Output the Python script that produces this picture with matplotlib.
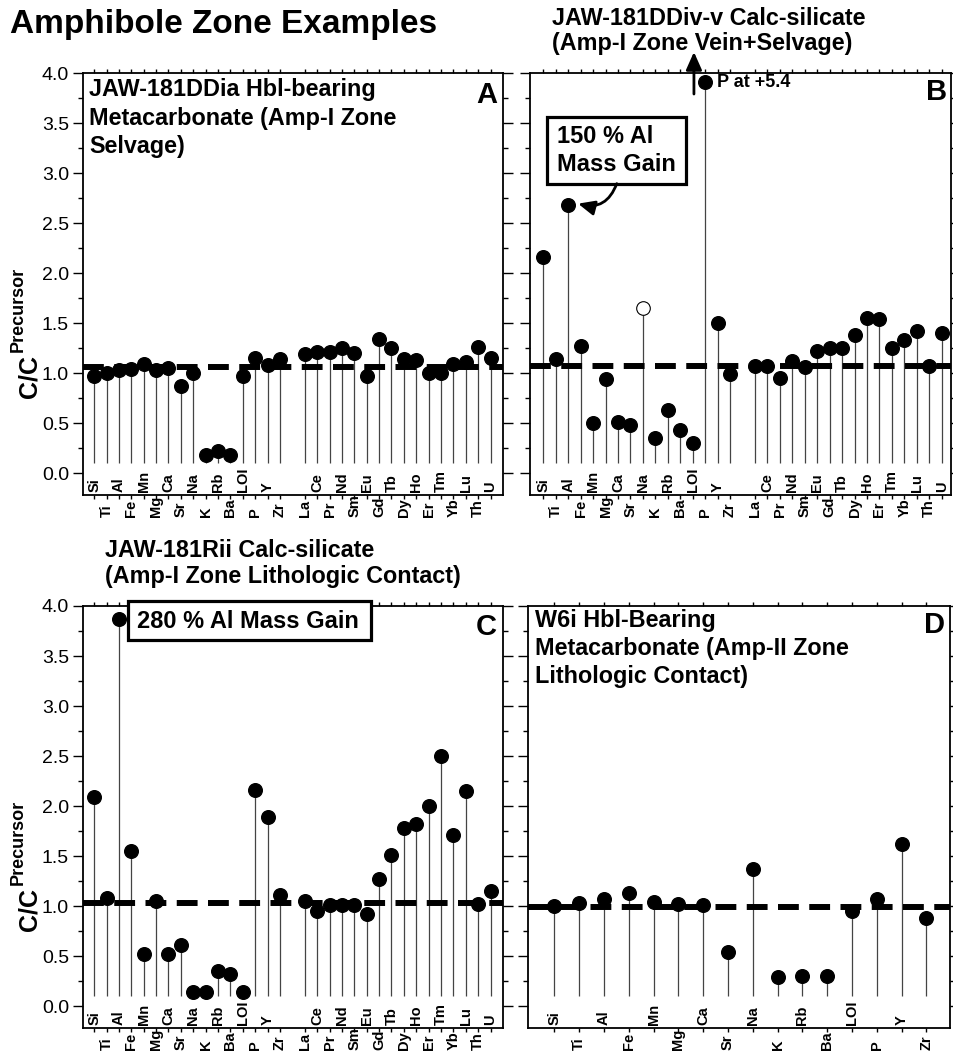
import numpy as np
import matplotlib
matplotlib.use("Agg")
import matplotlib.pyplot as plt
from matplotlib.patches import Rectangle

plt.rcParams['font.family'] = ['Liberation Sans', 'DejaVu Sans']
plt.rcParams['lines.scale_dashes'] = False

# ---------------- data ----------------
elements_full = ['Si', 'Ti', 'Al', 'Fe', 'Mn', 'Mg', 'Ca', 'Sr', 'Na', 'K', 'Rb', 'Ba',
                 'LOI', 'P', 'Y', 'Zr',
                 'La', 'Ce', 'Pr', 'Nd', 'Sm', 'Eu', 'Gd', 'Tb', 'Dy', 'Ho', 'Er', 'Tm',
                 'Yb', 'Lu', 'Th', 'U']
elements_d = ['Si', 'Ti', 'Al', 'Fe', 'Mn', 'Mg', 'Ca', 'Sr', 'Na', 'K', 'Rb', 'Ba',
              'LOI', 'P', 'Y', 'Zr']

values_a = [0.97, 1.00, 1.03, 1.04, 1.09, 1.03, 1.05, 0.87, 1.00, 0.18, 0.22, 0.18,
            0.97, 1.15, 1.08, 1.14,
            1.19, 1.21, 1.21, 1.25, 1.20, 0.97, 1.34, 1.25, 1.14, 1.13, 1.00, 1.00,
            1.09, 1.11, 1.26, 1.15]
values_b = [2.16, 1.14, 2.68, 1.27, 0.50, 0.94, 0.51, 0.48, 1.65, 0.35, 0.63, 0.43,
            0.30, 3.91, 1.50, 0.99,
            1.07, 1.07, 0.95, 1.12, 1.06, 1.22, 1.25, 1.25, 1.385, 1.55, 1.54, 1.25,
            1.33, 1.42, 1.07, 1.40]
open_b = ['Na']
values_c = [2.09, 1.08, 3.87, 1.55, 0.52, 1.05, 0.52, 0.61, 0.14, 0.14, 0.35, 0.32,
            0.14, 2.16, 1.89, 1.11,
            1.05, 0.95, 1.01, 1.01, 1.01, 0.92, 1.27, 1.51, 1.78, 1.82, 2.00, 2.50,
            1.71, 2.15, 1.02, 1.15]
values_d = [1.00, 1.03, 1.07, 1.13, 1.04, 1.02, 1.01, 0.54, 1.37, 0.29, 0.30, 0.30,
            0.95, 1.07, 1.62, 0.88]

baseline_a, baseline_b, baseline_c, baseline_d = 1.06, 1.07, 1.03, 0.99
stem_floor = 0.1

main_title = 'Amphibole Zone Examples'
title_a = ['JAW-181DDia Hbl-bearing', 'Metacarbonate (Amp-I Zone', 'Selvage)']
title_b = ['JAW-181DDiv-v Calc-silicate', '(Amp-I Zone Vein+Selvage)']
title_c = ['JAW-181Rii Calc-silicate', '(Amp-I Zone Lithologic Contact)']
title_d = ['W6i Hbl-Bearing', 'Metacarbonate (Amp-II Zone', 'Lithologic Contact)']
note_b = ['150 % Al', 'Mass Gain']
note_p = 'P at +5.4'
note_c = '280 % Al Mass Gain'
ylabel_main, ylabel_sup = 'C/C', 'Precursor'

# ---------------- layout ----------------
W, H = 954, 1052
fig = plt.figure(figsize=(W / 100, H / 100), dpi=100)


def rect(l, t, r, b):
    return [l / W, 1 - b / H, (r - l) / W, (b - t) / H]


def ftext(x, y, s, **kw):
    fig.text(x / W, 1 - y / H, s, **kw)


pos_full = list(range(16)) + list(range(17, 33))
pos_d = list(range(16))

axA = fig.add_axes(rect(83, 73, 503, 495))
axB = fig.add_axes(rect(530, 73, 951, 495))
axC = fig.add_axes(rect(83, 606, 503, 1028))
axD = fig.add_axes(rect(528, 606, 950, 1028))


def panel(ax, names, pos, vals, base, xlim, ylabels, open_names=()):
    ax.set_xlim(*xlim)
    ax.set_ylim(-0.215, 4.0)
    ax.axhline(base, color='k', lw=4.3, dashes=(15, 7.5), zorder=2)
    ax.vlines(pos, stem_floor, vals, color='#444444', lw=0.9, zorder=1.5)
    fx = [p for p, n in zip(pos, names) if n not in open_names]
    fy = [v for v, n in zip(vals, names) if n not in open_names]
    ax.plot(fx, fy, 'o', color='k', ms=9.8, zorder=3, clip_on=False)
    ox = [p for p, n in zip(pos, names) if n in open_names]
    oy = [v for v, n in zip(vals, names) if n in open_names]
    if ox:
        ax.plot(ox, oy, 'o', mfc='white', mec='k', mew=0.8, ms=9.8, zorder=3)
    for s in ax.spines.values():
        s.set_linewidth(1.3)
    ax.set_xticks(pos)
    ax.tick_params(axis='x', which='major', direction='out', length=3, width=1,
                   top=True, bottom=True, labelbottom=False)
    ax.tick_params(axis='x', which='minor', bottom=False, top=False)
    ax.set_yticks(np.arange(0, 4.01, 0.5))
    ax.set_yticks(np.arange(0.25, 4.0, 0.5), minor=True)
    ax.tick_params(axis='y', which='major', direction='out', length=7, width=1,
                   left=True, right=True, labelleft=ylabels, labelsize=14, pad=3)
    ax.tick_params(axis='y', which='minor', direction='out', length=3.5, width=1,
                   left=True, right=True)
    if ylabels:
        ax.set_yticklabels([f'{v:.1f}' for v in np.arange(0, 4.01, 0.5)])
    for p, n in zip(pos, names):
        off = 2.4 if p % 2 == 0 else -15.6
        ax.annotate(n, xy=(p, 0), xycoords=('data', 'axes fraction'),
                    xytext=(0, off), textcoords='offset points', rotation=90,
                    ha='center', va='bottom', fontsize=10.5, fontweight='bold',
                    annotation_clip=False)


panel(axA, elements_full, pos_full, values_a, baseline_a, (-0.9, 33.0), True)
panel(axB, elements_full, pos_full, values_b, baseline_b, (-1.07, 32.75), False, open_b)
panel(axC, elements_full, pos_full, values_c, baseline_c, (-0.9, 33.0), True)
panel(axD, elements_d, pos_d, values_d, baseline_d, (-1.06, 15.95), False)

# ---------------- titles ----------------
ftext(10, 33, main_title, fontsize=24, fontweight='bold', va='baseline', ha='left')
TFS = 16.8
for i, line in enumerate(title_a):
    ftext(89, 96 + 28.7 * i, line, fontsize=TFS, fontweight='bold', va='baseline')
for i, line in enumerate(title_d):
    ftext(535, 626.7 + 28.3 * i, line, fontsize=TFS, fontweight='bold', va='baseline')
for i, line in enumerate(title_b):
    ftext(552, 25 + 25 * i, line, fontsize=TFS, fontweight='bold', va='baseline')
for i, line in enumerate(title_c):
    ftext(105, 557 + 26 * i, line, fontsize=TFS, fontweight='bold', va='baseline')

for x, y, s in [(497, 103, 'A'), (947, 100, 'B'), (497, 635, 'C'), (945, 633, 'D')]:
    ftext(x, y, s, fontsize=21, fontweight='bold', ha='right', va='baseline')

# y-axis labels: C/C with superscript "Precursor", drawn as two rotated texts
for y0 in (398, 931):
    ftext(30, y0, ylabel_main, fontsize=18, fontweight='bold', rotation=90,
          ha='center', va='bottom')
    ftext(18, y0 - 46, ylabel_sup, fontsize=13, fontweight='bold', rotation=90,
          ha='center', va='bottom')

# ---------------- panel B annotations ----------------
iAl = elements_full.index('Al')
iP = elements_full.index('P')
xAl, xP = pos_full[iAl], pos_full[iP]
axB.add_patch(Rectangle((0.27, 2.895), 11.17, 0.665, fc='white', ec='k', lw=2.3, zorder=4))
axB.text(1.08, 3.305, note_b[0], fontsize=17, fontweight='bold', ha='left', va='baseline', zorder=5)
axB.text(1.08, 3.018, note_b[1], fontsize=17, fontweight='bold', ha='left', va='baseline', zorder=5)
axB.annotate('', xy=(xAl + 0.79, values_b[iAl] + 0.015), xytext=(5.9, 2.895),
             arrowprops=dict(arrowstyle='-|>,head_length=0.45,head_width=0.2',
                             mutation_scale=22, lw=2, color='k',
                             connectionstyle='arc3,rad=-0.45', shrinkA=0, shrinkB=0),
             zorder=5)
axB.annotate(note_p, xy=(xP, values_b[iP]), xytext=(8.6, 0), textcoords='offset points',
             fontsize=13, fontweight='bold', ha='left', va='center')
axB.annotate('', xy=(xP - 0.9, 4.21), xytext=(xP - 0.9, 3.79),
             arrowprops=dict(arrowstyle='-|>,head_length=0.45,head_width=0.2',
                             mutation_scale=24, lw=2, color='k', shrinkA=0, shrinkB=0),
             annotation_clip=False)

# ---------------- panel C annotation ----------------
axC.add_patch(Rectangle((2.72, 3.66), 19.62, 0.39, fc='white', ec='k', lw=2.3,
                        zorder=4, clip_on=False))
axC.text(3.47, 3.784, note_c, fontsize=17, fontweight='bold', ha='left', va='baseline', zorder=5)

fig.savefig('out.png', dpi=100)
